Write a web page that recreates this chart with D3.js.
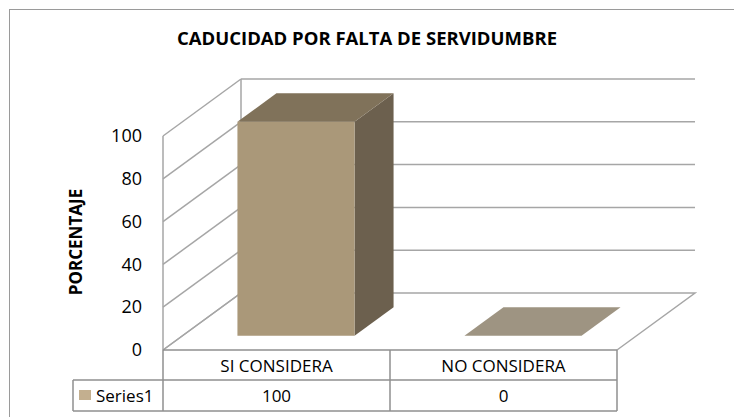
<!DOCTYPE html>
<html>
<head>
<meta charset="utf-8">
<script src="https://cdn.jsdelivr.net/npm/d3@7"></script>
<style>
  body { margin: 0; background: #fff; }
  text { font-family: "Open Sans", sans-serif; fill: #000; }
</style>
</head>
<body>
<div id="chart"></div>
<script>
// data
const categories = ['SI CONSIDERA', 'NO CONSIDERA'];
const values = [100, 0];
const seriesName = 'Series1';
const yTicks = [0, 20, 40, 60, 80, 100];
const title = 'CADUCIDAD POR FALTA DE SERVIDUMBRE';
const yTitle = 'PORCENTAJE';

// sizes
const w = 734, h = 417;
const left = 163, right = 617, floorY = 350, topY = 136;
const depthX = 78, depthY = -57;     // 3d depth offset
const barFrac = 0.516;               // bar width / category width
const z0 = 0.25, z1 = 0.75;          // bar depth start/end
const rowH = [30, 31];
const legendLeft = 73;

const colors = {
  grid: '#a6a6a6',
  table: '#8f8f8f',
  front: '#aa9879',
  top: '#80725a',
  side: '#6c604e',
  flat: '#9e9482',
  swatch: '#c3af8f'
};

const svg = d3.select('#chart').append('svg')
  .attr('width', w)
  .attr('height', h);

// outer frame
svg.append('rect')
  .attr('x', 9.5).attr('y', 9.5)
  .attr('width', 760).attr('height', 440)
  .attr('fill', 'none')
  .attr('stroke', '#9a9a9a')
  .attr('stroke-width', 1);

// scales
const yScale = d3.scaleLinear().domain([0, 100]).range([floorY, topY]);
const xScale = d3.scaleBand().domain(categories).range([left, right]).padding(0);

const g = svg.append('g');

// left wall lines
g.selectAll('.wall')
  .data(yTicks)
  .enter()
  .append('line')
  .attr('x1', left).attr('y1', d => yScale(d))
  .attr('x2', left + depthX).attr('y2', d => yScale(d) + depthY)
  .attr('stroke', colors.grid).attr('stroke-width', 1.5);

// back wall grid lines
g.selectAll('.grid')
  .data(yTicks.filter(d => d > 0))
  .enter()
  .append('line')
  .attr('x1', left + depthX).attr('y1', d => yScale(d) + depthY)
  .attr('x2', right + depthX).attr('y2', d => yScale(d) + depthY)
  .attr('stroke', colors.grid).attr('stroke-width', 1.5);

// wall verticals
g.append('line')
  .attr('x1', left).attr('y1', yScale(100))
  .attr('x2', left).attr('y2', yScale(0))
  .attr('stroke', colors.grid).attr('stroke-width', 1.5);
g.append('line')
  .attr('x1', left + depthX).attr('y1', yScale(100) + depthY)
  .attr('x2', left + depthX).attr('y2', yScale(0) + depthY)
  .attr('stroke', colors.grid).attr('stroke-width', 1.5);

// floor
g.append('path')
  .attr('d', d3.line()([
    [left, yScale(0)],
    [left + depthX, yScale(0) + depthY],
    [right + depthX, yScale(0) + depthY],
    [right, yScale(0)]
  ]))
  .attr('fill', 'none')
  .attr('stroke', colors.grid).attr('stroke-width', 1.5);

// bars
const bw = xScale.bandwidth() * barFrac;
const bars = g.selectAll('.bar')
  .data(categories.map((c, i) => ({ cat: c, v: values[i] })))
  .enter()
  .append('g');

bars.each(function (d) {
  const sel = d3.select(this);
  const x0 = xScale(d.cat) + (xScale.bandwidth() - bw) / 2 + z0 * depthX;
  const x1 = x0 + bw;
  const yb = yScale(0) + z0 * depthY;
  const yt = yScale(d.v) + z0 * depthY;
  const ddx = (z1 - z0) * depthX, ddy = (z1 - z0) * depthY;
  if (d.v === 0) {
    sel.append('path')
      .attr('d', d3.line()([[x0, yb], [x1, yb], [x1 + ddx, yb + ddy], [x0 + ddx, yb + ddy]]) + 'Z')
      .attr('fill', colors.flat);
    return;
  }
  // side
  sel.append('path')
    .attr('d', d3.line()([[x1, yt], [x1 + ddx, yt + ddy], [x1 + ddx, yb + ddy], [x1, yb]]) + 'Z')
    .attr('fill', colors.side);
  // top
  sel.append('path')
    .attr('d', d3.line()([[x0, yt], [x1, yt], [x1 + ddx, yt + ddy], [x0 + ddx, yt + ddy]]) + 'Z')
    .attr('fill', colors.top);
  // front
  sel.append('rect')
    .attr('x', x0).attr('y', yt)
    .attr('width', bw).attr('height', yb - yt)
    .attr('fill', colors.front);
});

// y axis labels
const yAxis = d3.axisLeft(yScale).tickValues(yTicks).tickSize(0).tickPadding(21);
svg.append('g')
  .attr('transform', 'translate(' + left + ',0)')
  .call(yAxis)
  .call(a => a.select('.domain').remove())
  .selectAll('text')
  .style('font-size', '18px')
  .style('font-family', '"Open Sans", sans-serif')
  .attr('fill', '#000');

// y title
svg.append('text')
  .text(yTitle)
  .attr('transform', 'translate(82,242) rotate(-90)')
  .attr('text-anchor', 'middle')
  .style('font-size', '17px')
  .style('font-weight', 'bold');

// title
svg.append('text')
  .text(title)
  .attr('x', 367).attr('y', 45)
  .attr('text-anchor', 'middle')
  .style('font-size', '18.5px')
  .style('font-weight', 'bold');

// data table
const t1 = floorY, t2 = floorY + rowH[0], t3 = t2 + rowH[1];
const tbl = svg.append('g').attr('stroke', colors.table).attr('stroke-width', 1.5);
tbl.append('line').attr('x1', left).attr('y1', t1).attr('x2', right).attr('y2', t1);
tbl.append('line').attr('x1', legendLeft).attr('y1', t2).attr('x2', right).attr('y2', t2);
tbl.append('line').attr('x1', legendLeft).attr('y1', t3).attr('x2', right).attr('y2', t3);
tbl.append('line').attr('x1', legendLeft).attr('y1', t2).attr('x2', legendLeft).attr('y2', t3);
tbl.selectAll('.vl')
  .data(categories.map(c => xScale(c)).concat([right]))
  .enter()
  .append('line')
  .attr('x1', d => d).attr('y1', t1)
  .attr('x2', d => d).attr('y2', t3);

svg.selectAll('.cat')
  .data(categories)
  .enter()
  .append('text')
  .text(d => d)
  .attr('x', d => xScale(d) + xScale.bandwidth() / 2)
  .attr('y', (t1 + t2) / 2 + 7)
  .attr('text-anchor', 'middle')
  .style('font-size', '17px');

svg.selectAll('.val')
  .data(values)
  .enter()
  .append('text')
  .text(d => d)
  .attr('x', (d, i) => xScale(categories[i]) + xScale.bandwidth() / 2)
  .attr('y', (t2 + t3) / 2 + 6.5)
  .attr('text-anchor', 'middle')
  .style('font-size', '17px');

// legend key
svg.append('rect')
  .attr('x', 79).attr('y', 390)
  .attr('width', 12).attr('height', 10)
  .attr('fill', colors.swatch);
svg.append('text')
  .text(seriesName)
  .attr('x', 96).attr('y', (t2 + t3) / 2 + 6.5)
  .style('font-size', '17px');
</script>
</body>
</html>
